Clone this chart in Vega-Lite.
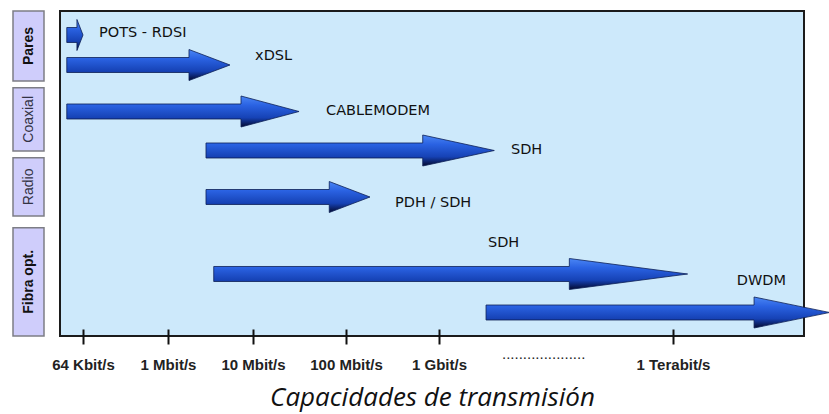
{
  "$schema": "https://vega.github.io/schema/vega-lite/v6.json",
  "padding": {"left": 12, "top": 10, "right": 0, "bottom": 6},
  "background": "white",
  "spacing": 16,
  "bounds": "flush",
  "config": {"font": "Liberation Sans"},
  "datasets": {
    "medios": [
      {"medio": "Pares", "inicio": 0, "fin": 21.54, "centro": 10.77},
      {"medio": "Coaxial", "inicio": 23.6, "fin": 43.08, "centro": 33.34},
      {"medio": "Radio", "inicio": 45.14, "fin": 63.08, "centro": 54.11},
      {"medio": "Fibra opt.", "inicio": 66.68, "fin": 100, "centro": 83.34}
    ],
    "flechas": [
      {"flecha": "POTS - RDSI", "capacidad": 4.581, "nivel": 5.077, "nivel_inf": 9.692},
      {"flecha": "POTS - RDSI", "capacidad": 4.722, "nivel": 5.077, "nivel_inf": 9.692},
      {"flecha": "POTS - RDSI", "capacidad": 4.722, "nivel": 2.615, "nivel_inf": 12.154},
      {"flecha": "POTS - RDSI", "capacidad": 4.806, "nivel": 7.385, "nivel_inf": 7.385},
      {"flecha": "xDSL", "capacidad": 4.581, "nivel": 14.308, "nivel_inf": 18.923},
      {"flecha": "xDSL", "capacidad": 6.247, "nivel": 14.308, "nivel_inf": 18.923},
      {"flecha": "xDSL", "capacidad": 6.247, "nivel": 11.846, "nivel_inf": 21.385},
      {"flecha": "xDSL", "capacidad": 6.729, "nivel": 16.615, "nivel_inf": 16.615},
      {"flecha": "CABLEMODEM", "capacidad": 4.581, "nivel": 28.615, "nivel_inf": 33.231},
      {"flecha": "CABLEMODEM", "capacidad": 6.859, "nivel": 28.615, "nivel_inf": 33.231},
      {"flecha": "CABLEMODEM", "capacidad": 6.859, "nivel": 26.154, "nivel_inf": 35.692},
      {"flecha": "CABLEMODEM", "capacidad": 7.495, "nivel": 30.923, "nivel_inf": 30.923},
      {"flecha": "SDH coaxial", "capacidad": 6.447, "nivel": 40.615, "nivel_inf": 45.231},
      {"flecha": "SDH coaxial", "capacidad": 8.825, "nivel": 40.615, "nivel_inf": 45.231},
      {"flecha": "SDH coaxial", "capacidad": 8.825, "nivel": 38.154, "nivel_inf": 47.692},
      {"flecha": "SDH coaxial", "capacidad": 9.709, "nivel": 42.923, "nivel_inf": 42.923},
      {"flecha": "PDH / SDH", "capacidad": 6.447, "nivel": 54.923, "nivel_inf": 59.538},
      {"flecha": "PDH / SDH", "capacidad": 7.82, "nivel": 54.923, "nivel_inf": 59.538},
      {"flecha": "PDH / SDH", "capacidad": 7.82, "nivel": 52.462, "nivel_inf": 62.0},
      {"flecha": "PDH / SDH", "capacidad": 8.258, "nivel": 57.231, "nivel_inf": 57.231},
      {"flecha": "SDH fibra", "capacidad": 6.538, "nivel": 78.615, "nivel_inf": 83.231},
      {"flecha": "SDH fibra", "capacidad": 10.671, "nivel": 78.615, "nivel_inf": 83.231},
      {"flecha": "SDH fibra", "capacidad": 10.671, "nivel": 76.154, "nivel_inf": 85.692},
      {"flecha": "SDH fibra", "capacidad": 12.188, "nivel": 80.923, "nivel_inf": 80.923},
      {"flecha": "DWDM", "capacidad": 9.603, "nivel": 90.462, "nivel_inf": 95.077},
      {"flecha": "DWDM", "capacidad": 13.042, "nivel": 90.462, "nivel_inf": 95.077},
      {"flecha": "DWDM", "capacidad": 13.042, "nivel": 88.0, "nivel_inf": 97.538},
      {"flecha": "DWDM", "capacidad": 14.013, "nivel": 92.769, "nivel_inf": 92.769}
    ],
    "etiquetas": [
      {"texto": "POTS - RDSI", "capacidad": 5.031, "nivel": 6.68},
      {"texto": "xDSL", "capacidad": 7.022, "nivel": 13.85},
      {"texto": "CABLEMODEM", "capacidad": 7.785, "nivel": 30.77},
      {"texto": "SDH", "capacidad": 9.923, "nivel": 42.77},
      {"texto": "PDH / SDH", "capacidad": 8.527, "nivel": 59.08},
      {"texto": "SDH", "capacidad": 9.628, "nivel": 71.29},
      {"texto": "DWDM", "capacidad": 12.821, "nivel": 83.08}
    ],
    "puntos": [
      {"texto": "....................", "capacidad": 10.342, "nivel": 107.08}
    ]
  },
  "hconcat": [
    {
      "width": 31,
      "height": 325,
      "view": {"stroke": null},
      "data": {"name": "medios"},
      "layer": [
        {
          "mark": {"type": "rect", "fill": "#cfcdfb", "stroke": "#7d7d85", "strokeWidth": 1.5},
          "encoding": {
            "y": {"field": "inicio", "type": "quantitative", "scale": {"domain": [0, 100], "reverse": true, "nice": false, "zero": false}, "axis": null},
            "y2": {"field": "fin"}
          }
        },
        {
          "transform": [{"filter": {"field": "medio", "oneOf": ["Pares", "Fibra opt."]}}],
          "mark": {"type": "text", "angle": 270, "align": "center", "baseline": "middle", "font": "Liberation Sans", "fontSize": 14, "fontWeight": "bold", "color": "#111"},
          "encoding": {
            "y": {"field": "centro", "type": "quantitative", "scale": {"domain": [0, 100], "reverse": true, "nice": false, "zero": false}, "axis": null},
            "text": {"field": "medio"}
          }
        },
        {
          "transform": [{"filter": {"field": "medio", "oneOf": ["Coaxial", "Radio"]}}],
          "mark": {"type": "text", "angle": 270, "align": "center", "baseline": "middle", "font": "Liberation Sans", "fontSize": 14, "color": "#333344"},
          "encoding": {
            "y": {"field": "centro", "type": "quantitative", "scale": {"domain": [0, 100], "reverse": true, "nice": false, "zero": false}, "axis": null},
            "text": {"field": "medio"}
          }
        }
      ]
    },
    {
      "width": 744,
      "height": 325,
      "view": {"fill": "#cde9fb", "stroke": "#1b1b1b", "strokeWidth": 2},
      "encoding": {
        "x": {
          "field": "capacidad",
          "type": "quantitative",
          "title": "Capacidades de transmisión",
          "scale": {"domain": [4.487, 4.806, 6, 7, 8, 9, 12, 13.684], "range": [0, 23, 108, 193, 286, 379, 613, 744], "nice": false, "zero": false},
          "axis": {
            "values": [4.806, 6, 7, 8, 9, 12],
            "labelExpr": "datum.value < 5 ? '64 Kbit/s' : datum.value < 6.5 ? '1 Mbit/s' : datum.value < 7.5 ? '10 Mbit/s' : datum.value < 8.5 ? '100 Mbit/s' : datum.value < 10 ? '1 Gbit/s' : '1 Terabit/s'",
            "domain": false,
            "grid": false,
            "offset": -7,
            "tickSize": 15,
            "tickWidth": 2,
            "tickColor": "#111",
            "labelFont": "Liberation Sans",
            "labelFontWeight": "bold",
            "labelFontSize": 15,
            "labelColor": "#222",
            "labelPadding": 13,
            "labelFlush": false,
            "labelOverlap": false,
            "titleFont": "Open Sans",
            "titleFontStyle": "italic",
            "titleFontWeight": "normal",
            "titleFontSize": 26,
            "titleColor": "#111",
            "titlePadding": 12
          }
        },
        "y": {"field": "nivel", "type": "quantitative", "scale": {"domain": [0, 100], "reverse": true, "nice": false, "zero": false}, "axis": null}
      },
      "layer": [
        {
          "data": {"name": "flechas"},
          "mark": {
            "type": "area",
            "orient": "vertical",
            "clip": false,
            "stroke": "#0d1f55",
            "strokeWidth": 0.8,
            "fill": {
              "gradient": "linear", "x1": 0, "y1": 0, "x2": 0, "y2": 1,
              "stops": [
                {"offset": 0, "color": "#4a86f5"},
                {"offset": 0.3, "color": "#2a62e2"},
                {"offset": 0.7, "color": "#1642b5"},
                {"offset": 1, "color": "#03092e"}
              ]
            },
            "fillOpacity": 1
          },
          "encoding": {
            "y2": {"field": "nivel_inf"},
            "detail": {"field": "flecha", "type": "nominal"}
          }
        },
        {
          "data": {"name": "etiquetas"},
          "mark": {"type": "text", "align": "left", "baseline": "middle", "font": "DejaVu Sans", "fontSize": 14.5, "color": "#111"},
          "encoding": {"text": {"field": "texto"}}
        },
        {
          "data": {"name": "puntos"},
          "mark": {"type": "text", "align": "center", "baseline": "alphabetic", "font": "Liberation Sans", "fontSize": 15, "color": "#222", "clip": false},
          "encoding": {"text": {"field": "texto"}}
        }
      ]
    }
  ]
}
